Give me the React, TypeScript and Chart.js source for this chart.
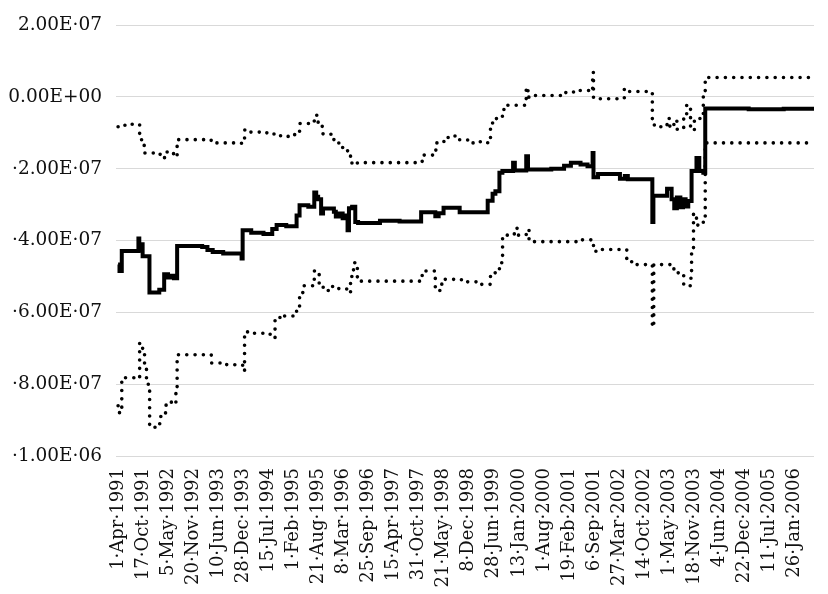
import { useEffect, useRef } from "react";
import { Chart, registerables } from "chart.js";

Chart.register(...registerables);

// One label every 143 business days, starting 1-Apr-1991
const dateLabels = [
  "1·Apr·1991", "17·Oct·1991", "5·May·1992", "20·Nov·1992", "10·Jun·1993",
  "28·Dec·1993", "15·Jul·1994", "1·Feb·1995", "21·Aug·1995", "8·Mar·1996",
  "25·Sep·1996", "15·Apr·1997", "31·Oct·1997", "21·May·1998", "8·Dec·1998",
  "28·Jun·1999", "13·Jan·2000", "1·Aug·2000", "19·Feb·2001", "6·Sep·2001",
  "27·Mar·2002", "14·Oct·2002", "1·May·2003", "18·Nov·2003", "4·Jun·2004",
  "22·Dec·2004", "11·Jul·2005", "26·Jan·2006",
];
const labelStep = 143;
const lastDay = 3973;

const yTickValues = [-1e8, -8e7, -6e7, -4e7, -2e7, 0, 2e7];
const yTickLabels = [
  "·1.00E·06", "·8.00E·07", "·6.00E·07", "·4.00E·07", "·2.00E·07", "0.00E+00", "2.00E·07",
];

// [business day, value in millions]; each value holds until the next entry
const centralSteps: [number, number][] = [
  [0, -46.7], [8, -48.5], [21, -42.9], [116, -39.4], [121, -42.8], [127, -41.0],
  [140, -44.4], [179, -54.5], [235, -53.7], [263, -49.4], [285, -50.3], [300, -49.8],
  [319, -50.5], [337, -41.5], [480, -41.8], [510, -42.6], [540, -43.2], [600, -43.6],
  [705, -45.0], [711, -37.1], [760, -37.8], [830, -38.2], [880, -36.8], [905, -35.7],
  [960, -36.0], [1019, -33.0], [1036, -30.2], [1086, -30.6], [1120, -26.6], [1131, -27.8],
  [1142, -28.5], [1159, -32.5], [1170, -31.1], [1232, -32.0], [1243, -33.3], [1260, -32.5],
  [1282, -33.8], [1299, -33.0], [1310, -37.1], [1318, -31.0], [1336, -30.6], [1354, -34.8],
  [1370, -35.1], [1495, -34.5], [1607, -34.7], [1730, -32.1], [1811, -33.2], [1830, -32.4],
  [1858, -30.9], [1950, -32.1], [2110, -28.9], [2138, -27.0], [2154, -26.3], [2177, -21.1],
  [2194, -20.6], [2255, -18.3], [2265, -20.5], [2330, -16.5], [2340, -20.2], [2473, -20.0],
  [2546, -19.2], [2585, -18.3], [2640, -18.8], [2680, -19.3], [2709, -15.6], [2714, -22.4],
  [2740, -21.5], [2865, -22.8], [2893, -22.0], [2910, -22.9], [3050, -34.8], [3056, -27.5],
  [3134, -25.6], [3160, -28.5], [3175, -31.0], [3190, -28.0], [3210, -30.7], [3225, -28.5],
  [3240, -30.5], [3255, -29.0], [3274, -20.6], [3302, -17.0], [3318, -20.6], [3341, -21.1],
  [3352, -3.2], [3600, -3.4], [3800, -3.3], [3973, -3.4],
];

const upperSteps: [number, number][] = [
  [0, -8.3], [39, -7.6], [106, -7.8], [123, -10.5], [134, -13.5], [151, -15.6],
  [235, -16.0], [246, -17.0], [265, -16.2], [280, -15.3], [300, -15.8], [330, -16.6],
  [337, -11.9], [515, -12.1], [532, -12.8], [700, -12.9], [722, -9.2], [739, -9.8],
  [830, -10.0], [890, -10.8], [935, -11.0], [1008, -10.1], [1036, -7.4], [1120, -5.1],
  [1142, -8.2], [1170, -10.4], [1232, -12.0], [1260, -13.5], [1282, -14.8], [1310, -16.5],
  [1335, -18.8], [1366, -18.3], [1736, -16.2], [1800, -15.5], [1814, -12.8], [1860, -11.3],
  [1890, -10.9], [1950, -12.0], [2000, -12.8], [2050, -12.5], [2110, -12.8], [2126, -9.0],
  [2138, -7.0], [2160, -5.5], [2194, -3.5], [2212, -2.3], [2330, 2.7], [2340, -0.2],
  [2345, 0.4], [2546, 1.2], [2600, 1.8], [2700, 1.5], [2709, 6.8], [2714, -0.5],
  [2848, -0.5], [2890, 2.2], [2910, 1.5], [3050, -7.8], [3078, -8.3], [3134, -6.0],
  [3150, -8.5], [3173, -6.5], [3190, -9.0], [3229, -5.5], [3246, -2.3], [3268, -9.2],
  [3290, -6.0], [3324, -5.8], [3341, 0.4], [3352, 5.4], [3973, 5.4],
];

const lowerSteps: [number, number][] = [
  [0, -86.0], [8, -88.0], [21, -78.2], [114, -78.4], [123, -68.6], [140, -70.5],
  [151, -74.6], [162, -80.0], [180, -92.0], [218, -91.0], [240, -89.0], [263, -88.0],
  [274, -85.0], [308, -85.5], [330, -82.0], [337, -71.8], [532, -74.1], [620, -74.6],
  [711, -76.3], [722, -65.4], [739, -65.8], [868, -67.0], [896, -62.2], [924, -60.7],
  [935, -61.0], [1019, -58.5], [1036, -54.5], [1058, -52.6], [1120, -48.5], [1148, -53.0],
  [1176, -53.9], [1204, -52.8], [1260, -53.5], [1310, -54.5], [1327, -50.0], [1344, -46.2],
  [1366, -51.3], [1736, -48.5], [1811, -53.9], [1848, -50.8], [1960, -51.5], [2050, -52.2],
  [2126, -49.0], [2177, -46.2], [2195, -38.5], [2262, -36.6], [2280, -38.5], [2330, -37.0],
  [2346, -40.3], [2630, -39.8], [2700, -40.3], [2714, -43.0], [2736, -42.5], [2904, -45.8],
  [2932, -46.7], [3050, -64.1], [3058, -46.7], [3173, -49.0], [3229, -52.6], [3268, -50.5],
  [3274, -43.5], [3285, -32.5], [3302, -35.7], [3341, -34.5], [3352, -12.8], [3973, -12.8],
];

const toPoints = (steps: [number, number][]) =>
  steps.map(([day, v]) => ({ x: day, y: v * 1e6 }));

const tickFont = { family: "'DejaVu Serif', serif", size: 18 };

export default function App() {
  const canvasRef = useRef<HTMLCanvasElement | null>(null);

  useEffect(() => {
    const canvas = canvasRef.current;
    if (!canvas) return;

    // Round-dot outline used for the two bounds
    const dotted = {
      borderColor: "#000",
      borderWidth: 3.6,
      borderDash: [0, 8.3],
      borderCapStyle: "round" as const,
      pointRadius: 0,
      stepped: "before" as const,
      fill: false,
    };

    const chart = new Chart(canvas, {
      type: "line",
      data: {
        datasets: [
          { ...dotted, data: toPoints(upperSteps) },
          { ...dotted, data: toPoints(lowerSteps) },
          {
            data: toPoints(centralSteps),
            borderColor: "#000",
            borderWidth: 4,
            borderJoinStyle: "miter",
            pointRadius: 0,
            stepped: "before",
            fill: false,
          },
        ],
      },
      options: {
        responsive: false,
        animation: false,
        layout: { padding: { top: 18.5, right: 0, bottom: 0, left: 0 } },
        plugins: { legend: { display: false }, tooltip: { enabled: false } },
        scales: {
          x: {
            type: "linear",
            min: -12,
            max: lastDay,
            grid: { display: false, drawTicks: false },
            border: { display: false },
            afterBuildTicks: (scale: any) => {
              scale.ticks = dateLabels.map((_, i) => ({ value: i * labelStep }));
            },
            afterFit: (scale: any) => {
              scale.height = 138;
            },
            ticks: {
              autoSkip: false,
              minRotation: 90,
              maxRotation: 90,
              padding: 12,
              color: "#111",
              font: tickFont,
              callback: (value: any) => {
                const i = Math.round(Number(value) / labelStep);
                return dateLabels[i] ?? "";
              },
            },
          },
          y: {
            type: "linear",
            min: -1e8,
            max: 2e7,
            grid: { color: "#d9d9d9", lineWidth: 1, drawTicks: false },
            border: { display: false },
            afterBuildTicks: (scale: any) => {
              scale.ticks = yTickValues.map((v) => ({ value: v }));
            },
            afterFit: (scale: any) => {
              scale.width = 116;
            },
            ticks: {
              padding: 14,
              color: "#111",
              font: { ...tickFont, size: 18.5 },
              callback: (value: any) => {
                const i = yTickValues.indexOf(Number(value));
                return i >= 0 ? yTickLabels[i] : "";
              },
            },
          },
        },
      },
    });

    return () => chart.destroy();
  }, []);

  return (
    <div style={{ position: "absolute", left: 0, top: 0, width: 828, height: 594, background: "#fff" }}>
      <canvas ref={canvasRef} width={828} height={594} style={{ display: "block" }} />
    </div>
  );
}
